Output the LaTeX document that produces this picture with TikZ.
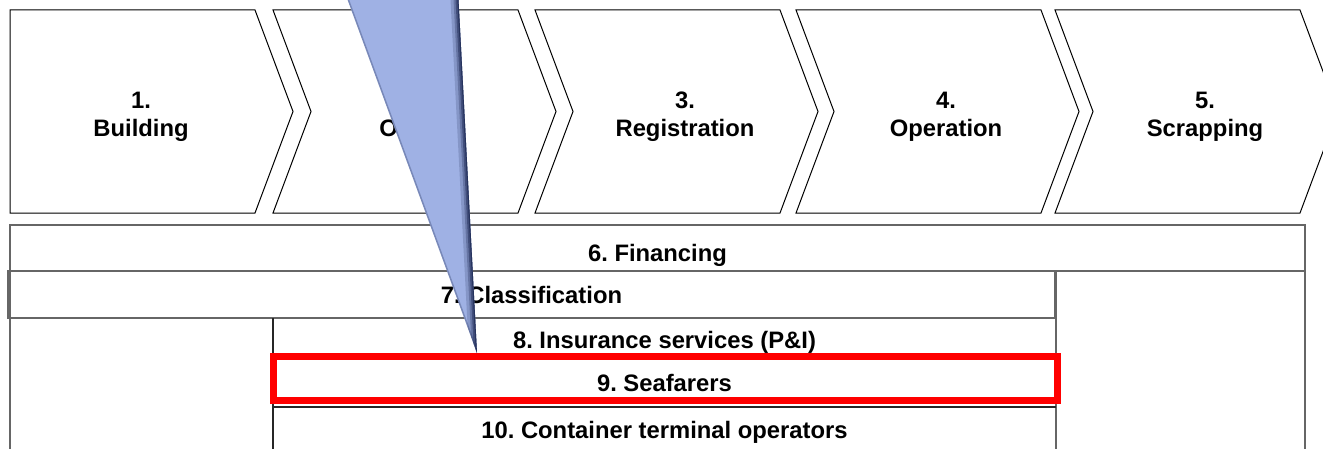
\documentclass[tikz,border=0pt]{standalone}
\usepackage{fontspec}
\setmainfont{Liberation Sans}
\frenchspacing
\definecolor{calloutblue}{HTML}{9FB1E4}
\definecolor{calloutdark}{HTML}{1F2B55}

\begin{document}
\begin{tikzpicture}[x=0.5pt,y=-0.5pt,
  every node/.style={inner sep=0pt, font=\bfseries\fontsize{11.9}{14.2}\selectfont},
  stage/.style={draw=black, line width=0.5pt, fill=white},
  stagetext/.style={align=center},
  frame/.style={draw=black!60, line width=0.75pt},
  inner/.style={draw=black!85, line width=0.75pt},
  pick/.style={draw=red, line width=3.7pt}]
\useasboundingbox (0,0) rectangle (1323,449);
\clip (0,0) rectangle (1323,449);

% value chain stages
\draw [stage] (10,10) -- (255,10) -- (293,111.5) -- (255,213) -- (10,213) -- cycle;
\draw [stage] (273,10) -- (518,10) -- (556,111.5) -- (518,213) -- (273,213) -- (311,111.5) -- cycle;
\draw [stage] (535,10) -- (780,10) -- (818,111.5) -- (780,213) -- (535,213) -- (573,111.5) -- cycle;
\draw [stage] (796,10) -- (1041,10) -- (1079,111.5) -- (1041,213) -- (796,213) -- (834,111.5) -- cycle;
\draw [stage] (1055,10) -- (1300,10) -- (1338,111.5) -- (1300,213) -- (1055,213) -- (1093,111.5) -- cycle;
\node [stagetext] (building) at (141,117) {1.\\Building};
\node [stagetext] (owning) at (423,117) {2.\\Owning};
\node [stagetext] (registration) at (685,117) {3.\\Registration};
\node [stagetext] (operation) at (946,117) {4.\\Operation};
\node [stagetext] (scrapping) at (1205,117) {5.\\Scrapping};

% services below the chain
\draw [frame] (10,225) rectangle (1305,470);
\draw [frame] (10,271) -- (1305,271);
\draw [frame] (8,271) rectangle (1055,318);
\draw [inner] (273,318) -- (273,470);
\draw [frame] (1056,271) -- (1056,470);
\draw [inner] (273,358) -- (1056,358);
\draw [inner] (273,407) -- (1056,407);
\node [anchor=base] (financing) at (657.5,261) {6. Financing};
\node [anchor=base] (classification) at (531.5,303) {7. Classification};
\node [anchor=base] (insurance) at (664.5,348) {8. Insurance services (P\&I)};
\node [anchor=base] (seafarers) at (664.5,391.5) {9. Seafarers};
\node [anchor=base] (terminals) at (664.5,438) {10. Container terminal operators};

% callout pointer
\coordinate (tipleft) at (344,-10);
\coordinate (tipright) at (458,-10);
\coordinate (tip) at (477,353);
\fill [calloutblue] (tipleft) -- (tipright) -- (tip) -- cycle;
\begin{scope}
\clip (tipleft) -- (tipright) -- (tip) -- cycle;
\draw [calloutdark, line width=8pt, opacity=0.2] (tipright) -- (tip);
\draw [calloutdark, line width=5pt, opacity=0.3] (tipright) -- (tip);
\draw [calloutdark, line width=3pt, opacity=0.5] (tipright) -- (tip);
\draw [calloutdark, line width=1.2pt, opacity=0.75] (tipright) -- (tip);
\draw [calloutdark, line width=1.5pt, opacity=0.3] (tipleft) -- (tip);
\end{scope}

% highlighted row
\draw [pick] (273.75,356.75) rectangle (1057.25,400.25);
\end{tikzpicture}
\end{document}
